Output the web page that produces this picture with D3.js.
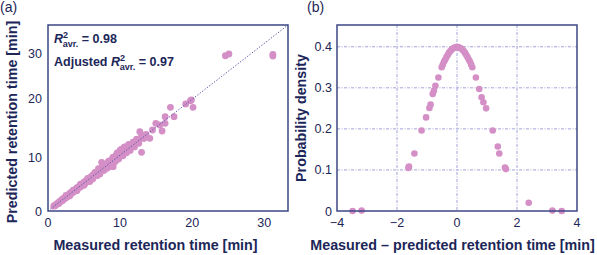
<!DOCTYPE html>
<html><head><meta charset="utf-8">
<script src="https://cdn.jsdelivr.net/npm/d3@7"></script>
<style>
html,body{margin:0;padding:0;background:#fff;}
svg{display:block;font-family:"Liberation Sans",Arial,Helvetica,sans-serif;}
</style></head>
<body><svg id="c" width="597" height="255"></svg>
<script>
// ---------- Panel (a) data ----------
const measured = [0.8,0.9,1.0,1.1,1.2,1.3,1.4,1.5,1.6,1.7,1.8,1.9,2.0,2.1,2.2,2.3,2.4,2.5,2.6,2.7,2.8,2.9,3.0,3.1,3.2,3.3,3.4,3.5,3.6,3.7,3.8,3.9,4.0,4.1,4.2,4.3,4.4,4.5,4.6,4.7,4.8,4.9,5.0,5.1,5.2,5.3,5.4,5.5,5.6,5.7,5.8,5.9,6.0,6.1,6.2,6.3,6.4,6.5,6.6,6.7,6.8,6.9,7.0,7.1,7.2,7.3,7.44,7.5,7.6,7.7,7.8,7.9,8.0,8.1,8.2,8.3,8.4,8.5,8.6,8.68,8.7,8.8,8.9,9.0,9.04,9.1,9.2,9.3,9.4,9.5,9.6,9.7,9.8,9.9,10.0,10.1,10.2,10.3,10.4,10.5,10.6,10.7,10.8,10.9,11.0,11.1,11.2,11.3,11.4,11.5,11.6,11.7,11.8,11.9,12.0,12.2,12.4,12.6,12.74,12.98,13.0,13.3,13.6,14.13,14.5,14.96,15.51,15.83,16.25,16.25,17.49,16.99,19.11,19.76,19.9,20.12,24.61,25.1,31.2,31.2,
  1.5,2.0,2.5,3.0,3.5,4.0,4.5,5.0,5.5,5.8,6.2,6.5,6.8,7.2,7.5,7.8,8.2,8.4,8.8,9.0,9.3,9.6,9.8,10.2,10.4,10.6,10.9,11.2,11.4,11.8,12.0,12.3,12.6,13.0,13.3,10.0,11.0,9.5,8.0,7.0];
const predicted = [0.9,1.0,1.0,1.2,1.3,1.3,1.5,1.6,1.6,1.9,1.8,2.0,2.2,2.1,2.4,2.3,2.6,2.5,2.8,2.7,3.0,2.9,3.3,3.1,3.5,3.3,3.6,3.5,3.9,3.7,4.0,3.9,4.3,4.1,4.5,4.4,4.6,4.5,4.9,4.8,5.1,4.9,5.4,5.1,5.6,5.4,5.7,5.6,6.0,5.8,6.2,6.0,6.4,6.2,6.7,6.3,6.8,6.6,7.1,6.8,7.2,7.0,7.5,7.2,7.7,7.4,9.1,7.9,7.6,8.3,8.0,8.4,8.1,8.7,8.4,8.9,8.6,9.2,8.8,8.3,9.4,9.0,9.7,9.3,8.28,10.0,9.6,10.2,9.8,10.5,10.0,10.6,10.3,10.9,10.5,11.0,10.6,11.2,10.8,11.3,11.0,11.5,11.1,11.6,11.3,11.9,11.5,12.0,11.6,12.1,11.8,12.3,12.0,12.4,12.3,12.8,12.5,13.0,14.37,10.88,13.4,13.6,13.9,13.25,14.66,15.8,15.51,14.49,15.8,16.92,16.92,18.5,19.07,19.63,19.75,18.5,29.5,29.89,29.82,29.44,
  1.4,1.9,2.9,2.8,3.9,3.8,5.0,4.8,6.1,5.5,6.0,7.2,6.6,6.9,8.3,7.6,8.0,9.3,8.6,10.0,9.2,10.8,9.7,11.4,10.3,11.8,10.8,12.2,11.2,12.6,11.8,13.1,12.4,13.8,13.2,11.2,11.9,9.6,8.8,7.9];
const xTicksA = [0,10,20,30];
const yTicksA = [0,10,20,30];

// ---------- Panel (b) data ----------
const residual = [-3.48,-3.18,-1.62,-1.6,-1.42,-1.18,-1.03,-0.92,-0.88,-0.81,-0.77,-0.72,-0.62,-0.51,-0.47,-0.43,-0.39,-0.35,-0.31,-0.27,-0.23,-0.19,-0.15,-0.11,-0.07,-0.03,0.0,0.03,0.07,0.11,0.15,0.19,0.23,0.27,0.31,0.35,0.39,0.43,0.47,0.51,0.63,0.74,0.82,0.88,0.97,1.19,1.36,1.41,1.6,1.63,2.39,3.18,3.49];
const density  = [0.0,0.001,0.105,0.108,0.14,0.196,0.228,0.251,0.259,0.285,0.293,0.305,0.325,0.350,0.357,0.364,0.369,0.375,0.380,0.385,0.389,0.392,0.395,0.397,0.398,0.399,0.399,0.399,0.398,0.397,0.395,0.392,0.389,0.385,0.380,0.375,0.369,0.364,0.357,0.350,0.325,0.297,0.277,0.265,0.250,0.196,0.157,0.14,0.106,0.102,0.02,0.001,0.0];
const xTicksB = [-4,-2,0,2,4];
const yTicksB = [0,0.1,0.2,0.3,0.4];
const xGridB = [-2,0,2];
const yGridB = [0.1,0.2,0.3,0.4];

const TEXT = "#1c2658", FRAME = "#3b4785", GRID = "#a3a3d8", DOT = "#d48fc6", DIAG = "#5656a8";
const svg = d3.select("#c");

// ---------- Panel (a) ----------
const xa = d3.scaleLinear().domain([0, 33.3]).range([48, 288]);
const ya = d3.scaleLinear().domain([0, 10, 20, 30, 33.3]).range([211, 157.5, 98.5, 53.5, 25]);
const ga = svg.append("g");
ga.selectAll("circle").data(measured.map((m,i)=>[m,predicted[i]])).join("circle")
  .attr("cx", d=>xa(d[0])).attr("cy", d=>ya(d[1])).attr("r", 3.4).attr("fill", DOT);
ga.append("line").attr("x1", xa(0)).attr("y1", ya(0)).attr("x2", xa(33.3)).attr("y2", ya(33.3))
  .attr("stroke", DIAG).attr("stroke-width", 1).attr("stroke-dasharray", "1.3,1.7");
ga.append("rect").attr("x", 48).attr("y", 25).attr("width", 240).attr("height", 186)
  .attr("fill", "none").attr("stroke", FRAME).attr("stroke-width", 1.5);
ga.selectAll(".xt").data(xTicksA).join("text").attr("class","xt")
  .attr("x", d=>xa(d)).attr("y", 227).attr("text-anchor","middle")
  .attr("font-size", 12.5).attr("fill", TEXT).text(d=>d);
ga.selectAll(".yt").data(yTicksA).join("text").attr("class","yt")
  .attr("x", 42).attr("y", d=>ya(d)+4.5).attr("text-anchor","end")
  .attr("font-size", 12.5).attr("fill", TEXT).text(d=>d);
ga.append("text").attr("x", 155.5).attr("y", 250).attr("text-anchor","middle")
  .attr("font-size", 14.3).attr("font-weight","bold").attr("fill", TEXT)
  .text("Measured retention time [min]");
ga.append("text").attr("transform","translate(17,122) rotate(-90)").attr("text-anchor","middle")
  .attr("font-size", 14.3).attr("font-weight","bold").attr("fill", TEXT)
  .text("Predicted retention time [min]");
// annotation
function r2(g, x, y, prefix, val){
  const t = g.append("text").attr("x", x).attr("y", y).attr("font-size", 12.5)
    .attr("font-weight","bold").attr("fill", TEXT);
  if (prefix) t.append("tspan").text(prefix);
  t.append("tspan").attr("font-style","italic").text("R");
  t.append("tspan").attr("font-size", 9).attr("dy", -5).text("2");
  t.append("tspan").attr("font-size", 9).attr("dx", -5.2).attr("dy", 9).text("avr.");
  t.append("tspan").attr("dy", -4).text(" = " + val);
}
r2(ga, 54, 42.5, "", "0.98");
r2(ga, 54, 66, "Adjusted ", "0.97");
ga.append("text").attr("x", 0).attr("y", 12).attr("font-size", 14).attr("fill", TEXT).text("(a)");

// ---------- Panel (b) ----------
const xb = d3.scaleLinear().domain([-4, 4]).range([337, 577]);
const yb = d3.scaleLinear().domain([0, 0.453]).range([211, 25]);
const gb = svg.append("g");
gb.selectAll(".vg").data(xGridB).join("line").attr("class","vg")
  .attr("x1", d=>xb(d)).attr("x2", d=>xb(d)).attr("y1", 25).attr("y2", 211)
  .attr("stroke", GRID).attr("stroke-width", 1).attr("stroke-dasharray", "3,1.5,1,1.5");
gb.selectAll(".hg").data(yGridB).join("line").attr("class","hg")
  .attr("y1", d=>yb(d)).attr("y2", d=>yb(d)).attr("x1", 337).attr("x2", 577)
  .attr("stroke", GRID).attr("stroke-width", 1).attr("stroke-dasharray", "3,1.5,1,1.5");
gb.selectAll("circle").data(residual.map((r,i)=>[r,density[i]])).join("circle")
  .attr("cx", d=>xb(d[0])).attr("cy", d=>yb(d[1])).attr("r", 3.3).attr("fill", DOT);
gb.append("rect").attr("x", 337).attr("y", 25).attr("width", 240).attr("height", 186)
  .attr("fill", "none").attr("stroke", FRAME).attr("stroke-width", 1.5);
gb.selectAll(".xt").data(xTicksB).join("text").attr("class","xt")
  .attr("x", d=>xb(d)).attr("y", 227).attr("text-anchor","middle")
  .attr("font-size", 12.5).attr("fill", TEXT).text(d=>d<0 ? "\u2212"+Math.abs(d) : d);
gb.selectAll(".yt").data(yTicksB).join("text").attr("class","yt")
  .attr("x", 332).attr("y", d=>yb(d)+4.5).attr("text-anchor","end")
  .attr("font-size", 12.5).attr("fill", TEXT).text(d=>d===0 ? "0" : d3.format(".1f")(d));
gb.append("text").attr("x", 452.5).attr("y", 250).attr("text-anchor","middle")
  .attr("font-size", 14.3).attr("font-weight","bold").attr("fill", TEXT)
  .text("Measured \u2013 predicted retention time [min]");
gb.append("text").attr("transform","translate(306,118) rotate(-90)").attr("text-anchor","middle")
  .attr("font-size", 14.3).attr("font-weight","bold").attr("fill", TEXT)
  .text("Probability density");
gb.append("text").attr("x", 307).attr("y", 12).attr("font-size", 14).attr("fill", TEXT).text("(b)");
</script></body></html>
